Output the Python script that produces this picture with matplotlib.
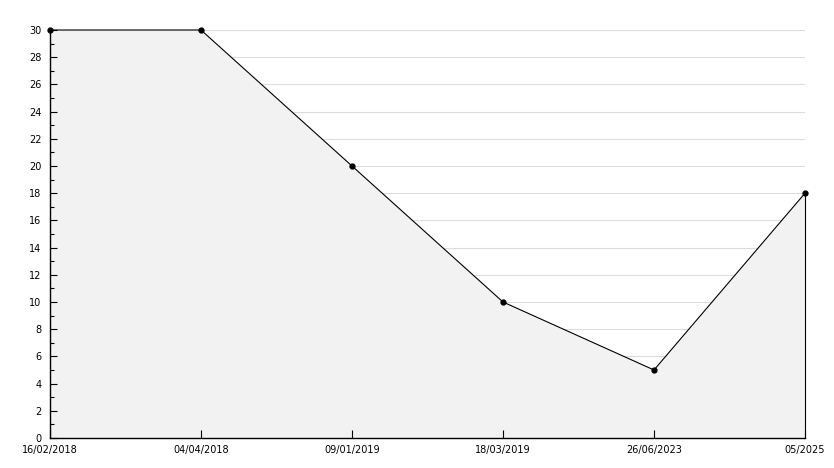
import matplotlib
matplotlib.use("Agg")
import matplotlib.pyplot as plt
from matplotlib.ticker import MultipleLocator

# data
dates = ["16/02/2018", "04/04/2018", "09/01/2019", "18/03/2019", "26/06/2023", "05/2025"]
values = [30, 30, 20, 10, 5, 18]

x = list(range(len(dates)))

fig = plt.figure(figsize=(8.34, 4.68), dpi=100)
ax = fig.add_axes([50 / 834, 30 / 468, 755 / 834, 408 / 468])

# horizontal grid, hidden under the fill
for v in range(2, 31, 2):
    ax.axhline(v, color="#dcdcdc", lw=0.8, zorder=0)

ax.fill_between(x, values, 0, color="#f2f2f2", zorder=1, lw=0)
ax.plot(x, values, color="black", lw=0.8, marker="o", ms=3.5, zorder=5, clip_on=False)
ax.plot([x[-1], x[-1]], [0, values[-1]], color="black", lw=0.8, zorder=2, clip_on=False)

ax.set_xlim(0, len(dates) - 1)
ax.set_ylim(0, 30)
ax.set_xticks(x)
ax.set_xticklabels(dates)
ax.yaxis.set_major_locator(MultipleLocator(2))
ax.yaxis.set_minor_locator(MultipleLocator(1))

ax.tick_params(axis="both", which="both", direction="in", labelsize=7, color="black", width=0.8)
ax.tick_params(axis="y", which="major", length=5, pad=6)
ax.tick_params(axis="y", which="minor", length=3)
ax.tick_params(axis="x", which="major", length=6, pad=5)
ax.tick_params(axis="x", which="minor", length=0)

for s in ["top", "right"]:
    ax.spines[s].set_visible(False)
for s in ["left", "bottom"]:
    ax.spines[s].set_linewidth(1)
    ax.spines[s].set_zorder(4)

plt.savefig("out.png", dpi=100)
